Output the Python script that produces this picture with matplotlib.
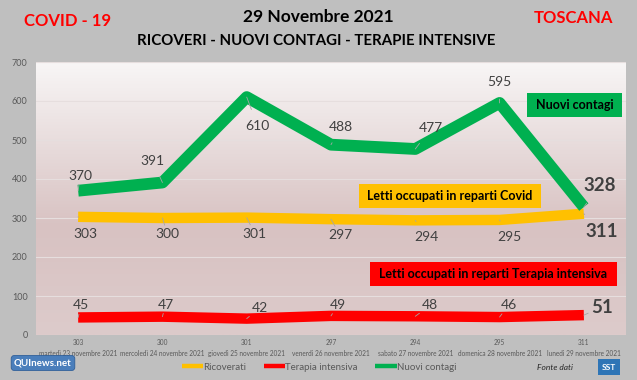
import matplotlib
matplotlib.use("Agg")
import matplotlib.pyplot as plt
import numpy as np
from matplotlib.colors import LinearSegmentedColormap

# ---------------- data ----------------
days = ["martedì 23 novembre 2021", "mercoledì 24 novembre 2021", "giovedì 25 novembre 2021",
        "venerdì 26 novembre 2021", "sabato 27 novembre 2021", "domenica 28 novembre 2021",
        "lunedì 29 novembre 2021"]
ricoverati = [303, 300, 301, 297, 294, 295, 311]
terapia = [45, 47, 42, 49, 48, 46, 51]
contagi = [370, 391, 610, 488, 477, 595, 328]
yticks = [0, 100, 200, 300, 400, 500, 600, 700]

# label offsets in pixels (style)
off_contagi = [(2, 15), (-10, 22), (11, -29), (10, 18), (16, 21), (0, 21), (16, 22)]
off_ricov = [(7, -17), (5, -16), (8, -16), (9, -16), (11, -17), (10, -17), (18, -18)]
off_ter = [(3, 12), (3, 12), (13, 11), (7, 11), (15, 11), (9, 12), (18, 8)]

FONT = ["Lato", "DejaVu Sans"]
plt.rcParams['font.family'] = FONT

W, H = 637, 380
fig = plt.figure(figsize=(W / 100, H / 100), dpi=100)
fig.patch.set_facecolor("#bfbfbf")

L, R, T, B = 36, 626, 62, 335
ax = fig.add_axes([L / W, 1 - B / H, (R - L) / W, (B - T) / H])
ax.set_xlim(-0.5, 6.5)
ax.set_ylim(0, 700)

# gradient background
cmap = LinearSegmentedColormap.from_list("bg", [(0, "#ddcbcb"), (0.4, "#d8c2c2"), (1.0, "#f8f6f6")])
grad = np.linspace(0, 1, 256).reshape(-1, 1)
ax.imshow(grad, extent=[-0.5, 6.5, 0, 700], origin="lower", aspect="auto", cmap=cmap, zorder=0)

for yv in yticks[1:]:
    ax.axhline(yv, color="#e6dede", lw=0.8, zorder=1)

for s in ax.spines.values():
    s.set_visible(False)
ax.set_yticks(yticks)
ax.set_yticklabels([str(v) for v in yticks], fontsize=6.5, color="#595959")
ax.tick_params(axis="both", length=0, pad=6)
x = np.arange(len(days))
ax.set_xticks(x)
ax.set_xticklabels([f"{r}\n{d}" for r, d in zip(ricoverati, days)], fontsize=4.7, color="#595959",
                   linespacing=1.6)
ax.tick_params(axis="x", pad=3)

ax.plot(x, ricoverati, color="#ffc000", lw=7.5, solid_capstyle="butt", zorder=3, label="Ricoverati")
ax.plot(x, terapia, color="#ff0000", lw=7.5, solid_capstyle="butt", zorder=3, label="Terapia intensiva")
ax.plot(x, contagi, color="#00b050", lw=8.5, solid_capstyle="butt", zorder=4, label="Nuovi contagi")


def labels(vals, offs):
    for i, (v, (dx, dy)) in enumerate(zip(vals, offs)):
        last = i == len(vals) - 1
        ax.annotate(str(v), (x[i], v), xytext=(dx * 0.72, dy * 0.72), textcoords="offset points",
                    ha="center", va="center", fontsize=13.5 if last else 10,
                    fontweight="bold" if last else "normal", color="#404040", zorder=6,
                    arrowprops=dict(arrowstyle="-", color="#a6a6a6", lw=0.6, shrinkA=6, shrinkB=0))


labels(contagi, off_contagi)
labels(ricoverati, off_ricov)
labels(terapia, off_ter)


def fbox(x0, y0, x1, y1, color, text):
    fig.patches.append(plt.Rectangle((x0 / W, 1 - y1 / H), (x1 - x0) / W, (y1 - y0) / H,
                                     transform=fig.transFigure, facecolor=color, edgecolor="none", zorder=5))
    fig.text((x0 + x1) / 2 / W, 1 - (y0 + y1) / 2 / H, text, ha="center", va="center",
             fontsize=9, fontweight="bold", color="black", zorder=6)


fbox(527, 93, 622, 117, "#00b050", "Nuovi contagi")
fbox(359, 184, 541, 208, "#ffc000", "Letti occupati in reparti Covid")
fbox(370, 262, 617, 286, "#ff0000", "Letti occupati in reparti Terapia intensiva")

# titles
fig.text(318 / W, 1 - 17 / H, "29 Novembre 2021", ha="center", va="center", fontsize=12.5, fontweight="bold")
fig.text(316 / W, 1 - 41 / H, "RICOVERI - NUOVI CONTAGI - TERAPIE INTENSIVE", ha="center", va="center",
         fontsize=10.8, fontweight="bold")
fig.text(68 / W, 1 - 21 / H, "COVID - 19", ha="center", va="center", fontsize=12, fontweight="bold",
         color="#ff0000")
fig.text(573 / W, 1 - 18 / H, "TOSCANA", ha="center", va="center", fontsize=12, fontweight="bold",
         color="#ff0000")

# legend
leg = ax.legend(loc="center", bbox_to_anchor=(319 / W, 1 - 367 / H), bbox_transform=fig.transFigure,
                ncol=3, frameon=False, fontsize=7, handlelength=2.2, handletextpad=0.0,
                columnspacing=1.8, labelcolor="#595959")
for ln in leg.get_lines():
    ln.set_linewidth(3.2)

# logos (approx)
fig.text(43 / W, 1 - 363 / H, "QUInews.net", ha="center", va="center", fontsize=7, fontweight="bold",
         color="white", bbox=dict(boxstyle="round,pad=0.3", fc="#4a7ebb", ec="#2f5f99", lw=0.6))
fig.text(555 / W, 1 - 367 / H, "Fonte dati", ha="center", va="center", fontsize=6, style="italic",
         color="#262626")
fig.text(609 / W, 1 - 367 / H, "SST", ha="center", va="center", fontsize=6, fontweight="bold",
         color="white", bbox=dict(boxstyle="square,pad=0.5", fc="#2e75b6", ec="none"))

fig.savefig("out.png", dpi=100, facecolor=fig.get_facecolor())
